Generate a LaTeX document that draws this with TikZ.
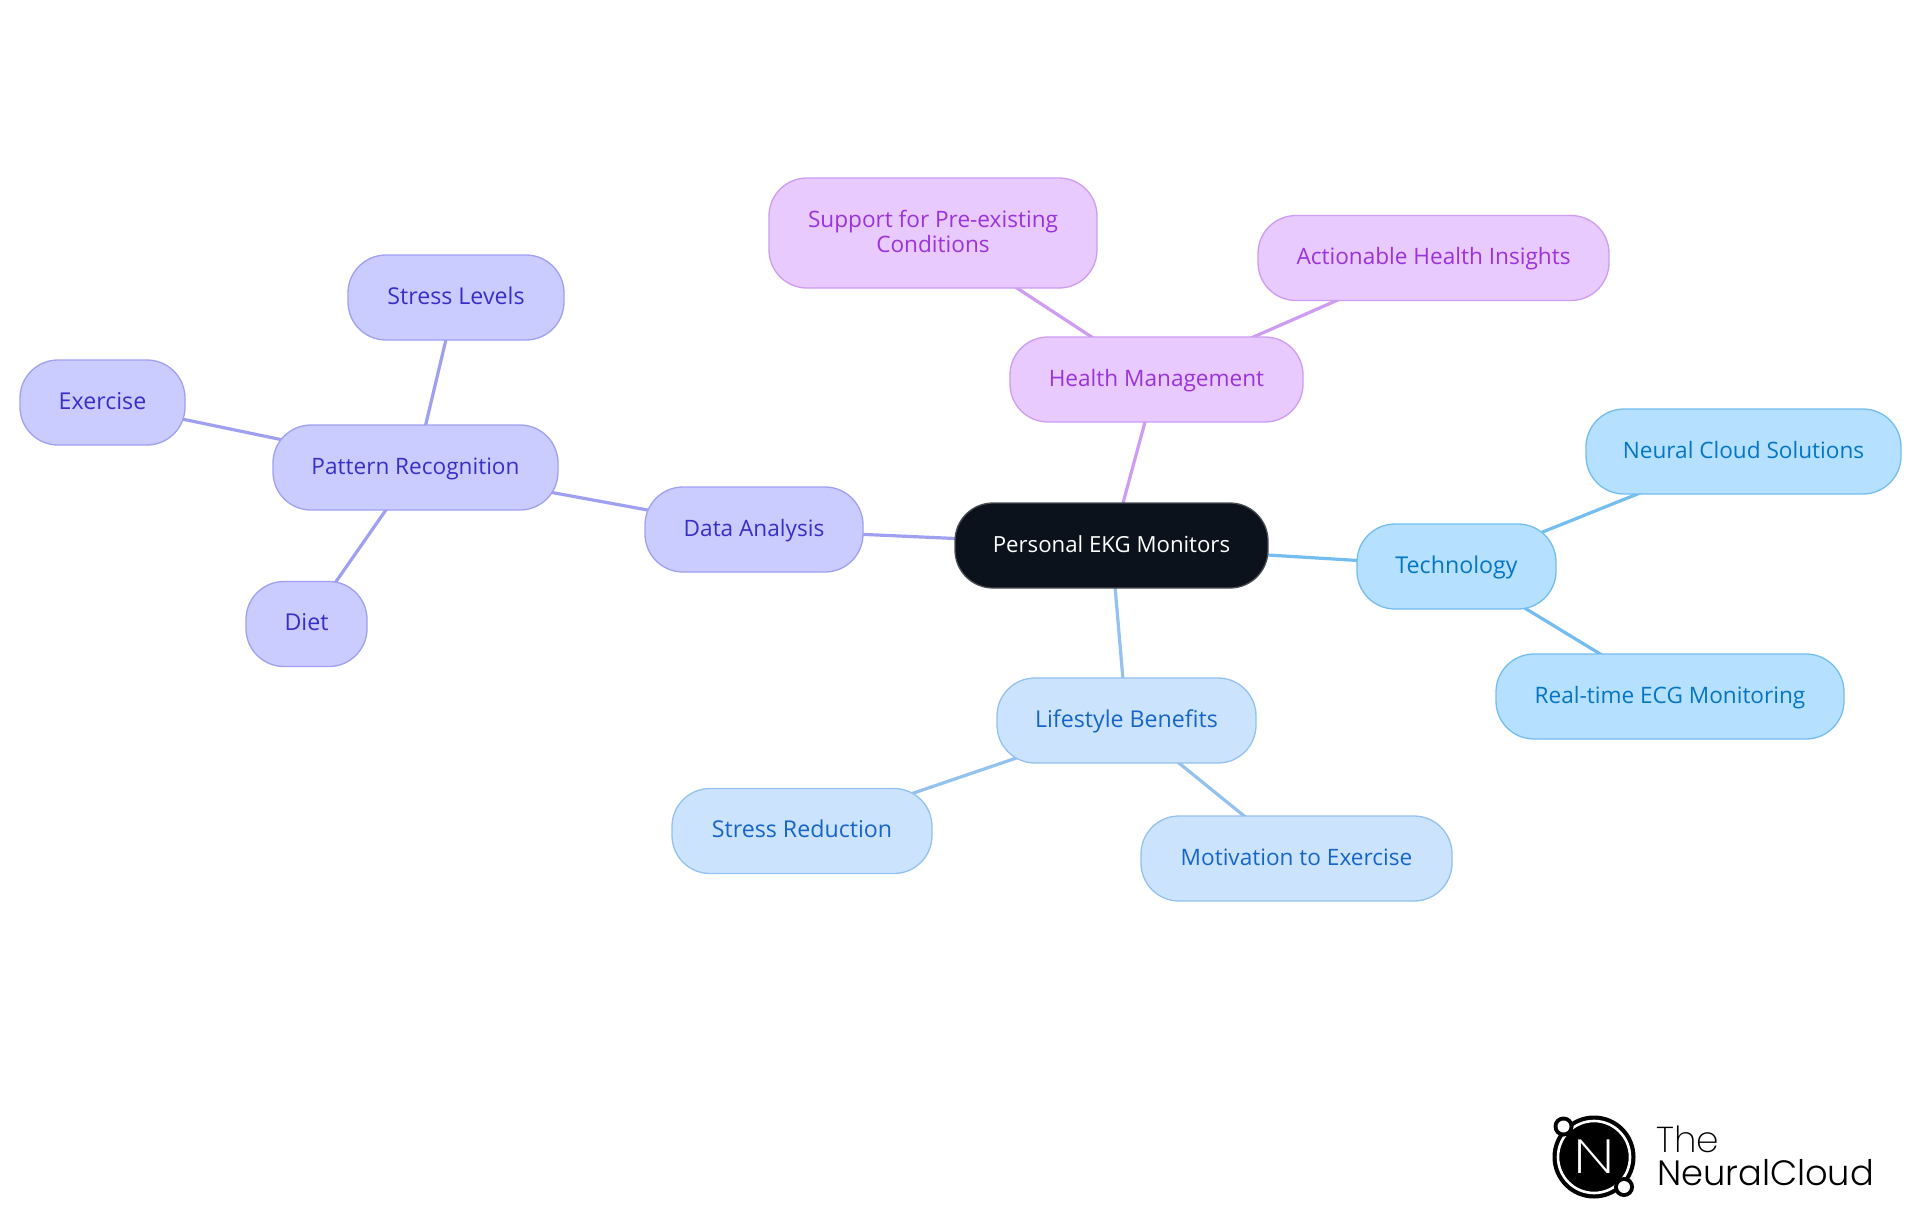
\documentclass[tikz,border=0pt]{standalone}
\usepackage{fontspec}
\setmainfont{Open Sans}
\newfontfamily\logofont{Poppins Light}
\newfontfamily\logofontthin{Poppins ExtraLight}
\usetikzlibrary{backgrounds}
\definecolor{rootfill}{HTML}{0B121B}
\definecolor{rootline}{HTML}{4A4F55}
\definecolor{purfill}{HTML}{E8CAFF}
\definecolor{purline}{HTML}{CE9CF2}
\definecolor{purtext}{HTML}{9A33DB}
\definecolor{bluefill}{HTML}{B5E0FF}
\definecolor{blueline}{HTML}{74BDF0}
\definecolor{bluetext}{HTML}{0576C4}
\definecolor{skyfill}{HTML}{CCE3FD}
\definecolor{skyline}{HTML}{93C1F0}
\definecolor{skytext}{HTML}{1566C8}
\definecolor{indfill}{HTML}{CACCFF}
\definecolor{indline}{HTML}{A0A0F2}
\definecolor{indtext}{HTML}{3730C8}
\tikzset{
  x=1pt,y=-1pt,
  mm/.style={rounded corners=38pt,inner sep=0pt,line width=1.3pt,align=center,text height=18pt,text depth=5pt,font=\fontsize{22.6}{25}\selectfont},
  widetext/.style={font=\fontsize{23.2}{25}\selectfont},
  narrowtext/.style={font=\fontsize{22.2}{25}\selectfont},
  rootnode/.style={mm,fill=rootfill,draw=rootline,text=white},
  pur/.style={mm,fill=purfill,draw=purline,text=purtext},
  blu/.style={mm,fill=bluefill,draw=blueline,text=bluetext},
  sky/.style={mm,fill=skyfill,draw=skyline,text=skytext},
  ind/.style={mm,fill=indfill,draw=indline,text=indtext},
  purlink/.style={draw=purline,line width=3.2pt},
  blulink/.style={draw=blueline,line width=3.2pt},
  skylink/.style={draw=skyline,line width=3.2pt},
  indlink/.style={draw=indline,line width=3.2pt},
  wsize/.style 2 args={minimum width=#1pt,minimum height=#2pt}
}
\begin{document}
\begin{tikzpicture}
\useasboundingbox (0,0) rectangle (1920,1215);
\node[rootnode,narrowtext,wsize={313}{85}] (root) at (1111.5,545.5) {Personal EKG Monitors};
\node[pur,wsize={293}{85}] (health) at (1156.5,379.5) {Health Management};
\node[pur,text height=43pt,wsize={328}{110}] (support) at (933,233) {Support for Pre-existing\\Conditions};
\node[pur,wsize={351}{85}] (action) at (1433.5,258) {Actionable Health Insights};
\node[blu,widetext,wsize={199}{85}] (tech) at (1456.5,566.5) {Technology};
\node[blu,wsize={315}{85}] (neural) at (1743.5,451.5) {Neural Cloud Solutions};
\node[blu,wsize={348}{85}] (realtime) at (1670,696.5) {Real-time ECG Monitoring};
\node[sky,widetext,wsize={259}{85}] (life) at (1126.5,720.5) {Lifestyle Benefits};
\node[sky,widetext,wsize={260}{85}] (reduce) at (802,831) {Stress Reduction};
\node[sky,wsize={311}{85}] (motive) at (1296.5,858.5) {Motivation to Exercise};
\node[ind,wsize={218}{85}] (data) at (754,529.5) {Data Analysis};
\node[ind,wsize={285}{85}] (pattern) at (415.5,467.5) {Pattern Recognition};
\node[ind,widetext,wsize={216}{85}] (levels) at (456,297.5) {Stress Levels};
\node[ind,widetext,wsize={165}{85}] (exercise) at (102.5,402.5) {Exercise};
\node[ind,widetext,wsize={121}{85}] (diet) at (306.5,624) {Diet};
\begin{scope}[on background layer]
\fill[white] (0,0) rectangle (1920,1215);
\draw[purlink] (root.center) -- (health.center);
\draw[purlink] (health.center) -- (support.center);
\draw[purlink] (health.center) -- (action.center);
\draw[blulink] (root.center) -- (tech.center);
\draw[blulink] (tech.center) -- (neural.center);
\draw[blulink] (tech.center) -- (realtime.center);
\draw[skylink] (root.center) -- (life.center);
\draw[skylink] (life.center) -- (reduce.center);
\draw[skylink] (life.center) -- (motive.center);
\draw[indlink] (root.center) -- (data.center);
\draw[indlink] (data.center) -- (pattern.center);
\draw[indlink] (pattern.center) -- (levels.center);
\draw[indlink] (pattern.center) -- (exercise.center);
\draw[indlink] (pattern.center) -- (diet.center);
\end{scope}
% logo
\fill[black] (1594,1157) circle (41.5);
\draw[white,line width=2.6pt] (1594,1157) circle (36);
\fill[black] (1563.5,1126.5) circle (10);
\fill[white] (1563.5,1126.5) circle (6);
\fill[black] (1624,1187) circle (10);
\fill[white] (1624,1187) circle (6);
\node[white,inner sep=0pt,xscale=1.3,font=\logofontthin\fontsize{48}{48}\selectfont] (logoN) at (1594,1157) {N};
\node[anchor=base west,inner sep=0pt,font=\logofontthin\fontsize{36}{36}\selectfont] (logoThe) at (1656,1152) {The};
\node[anchor=base west,inner sep=0pt,font=\logofont\fontsize{35.2}{36}\selectfont] (logoName) at (1657,1185) {NeuralCloud};
\end{tikzpicture}
\end{document}
